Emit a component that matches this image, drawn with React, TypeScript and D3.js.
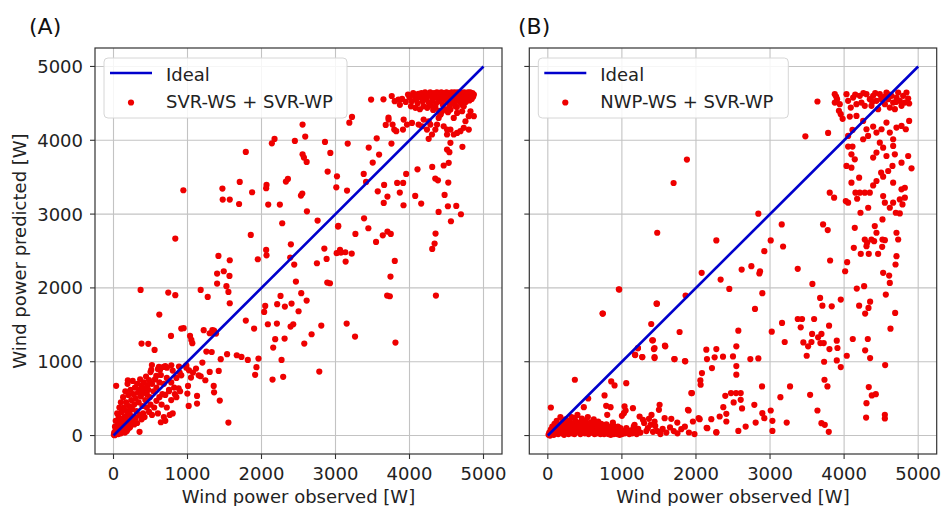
import React from "react";
import * as d3 from "d3";

// ---------- DATA ----------
const tickValues = [0, 1000, 2000, 3000, 4000, 5000];
const idealLine: [number, number][] = [[0, 0], [5000, 5000]];
const panelLabels = ["(A)", "(B)"];
const seriesNames = ["SVR-WS + SVR-WP", "NWP-WS + SVR-WP"];
const xAxisTitle = "Wind power observed [W]";
const yAxisTitle = "Wind power predicted [W]";

// Panel A: [observed, predicted]
const svrSparse: [number, number][] = [
  [944,3323],[1472,3345],[1476,3196],[1571,3196],[1697,3137],[1706,3436],[1788,3842],[1873,3296],[1855,2718],[835,2668],[2068,3395],[2063,3350],[2091,3129],[2140,3959],[2176,4018],[2248,3129],[2330,3440],[2357,3476],[2280,2876],[2451,3991],[2555,4212],[2591,4050],[2555,3810],[2573,3765],[2610,3707],[2533,3251],[2551,3278],[2614,3038],[2858,3977],[2930,3828],[2894,3576],[2758,2912],[3020,3512],[3011,3363],[3165,3955],[3187,4239],[3223,4316],[3156,3318],[3038,2840],[3269,2731],[3386,2943],[3444,2808],[3381,3544],[3413,3436],[3449,3901],[3557,4027],[3589,3806],[3571,3309],[3503,3698],[3481,4551],[3648,4555],[3716,4307],[3756,3955],[3679,4208],[3657,3395],[3702,3237],[3652,3151],[3639,2713],[3702,2763],[3747,2731],[3548,2623],[3833,3422],[3869,3291],[3914,3422],[3919,3120],[3955,3544],[4077,3246],[4108,3607],[4158,3142],[4352,2736],[4339,2600],[4307,2528],[4393,3029],[4519,3106],[4632,3111],[4695,2998],[4560,2903],[4307,3639],[4348,3481],[4384,3458],[4524,3427],[4474,3260],[4357,1896],[3801,2366],[3743,2154],[3698,1896],[3734,1887],[3810,1260],[3264,1341],[3151,1517],[3219,2465],[3133,2483],[3061,2515],[3074,2479],[3137,2357],[3016,2470],[3034,2831],[2880,2393],[2889,2072],[2925,2063],[2849,2533],[2749,2334],[2808,1490],[2677,1372],[2781,867],[2578,1246],[2610,1828],[2537,1928],[2501,1684],[2465,2086],[2442,2316],[2397,2591],[2388,2411],[2257,1892],[2212,1779],[2316,1747],[2406,1788],[2429,1508],[2393,1476],[2312,1314],[2185,1305],[2158,1192],[2271,1025],[2149,758],[2293,795],[2208,1517],[2086,1508],[2050,1756],[2036,1675],[2068,2442],[2063,2515],[1950,2388],[1959,1043],[1932,926],[1914,822],[1900,1449],[1788,1558],[1815,1025],[1729,1065],[1666,1088],[1535,1102],[1449,1034],[1436,474],[1553,176],[1571,2375],[1567,2163],[1490,2226],[1418,2433],[1400,2194],[1400,2059],[1526,2023],[1553,1946],[1571,1792],[1273,1878],[1178,1973],[1359,1422],[1300,1386],[1386,1381],[1219,1427],[1034,1350],[1052,1296],[1065,1251],[916,1449],[948,1454],[777,1350],[740,1937],[835,1901],[619,1639],[366,1973],[379,1246],[470,1242],[555,1160],[36,673],[194,749]
];
const svrMid: [number, number][] = [
  [1336,1430],[1350,1394],[1327,1132],[1255,1137],[1354,672],[1359,586],[1422,875],[1300,862],[1241,749],[1178,803],[1129,433],[1016,401],[1129,537],[998,568],[1007,672],[1047,785],[1074,853],[1151,816],[1115,907],[1020,884],[984,920],[984,952],[1201,988],[894,853],[916,816],[885,934],[781,952],[722,920],[677,929],[614,929],[519,956],[628,889],[578,807],[510,889]
];
const svrLow: [number, number][] = [
  [20,120],[30,200],[40,80],[50,300],[60,150],[70,250],[80,380],[90,200],[100,450],[110,320],[120,150],[130,520],[140,380],[150,250],[160,600],[170,450],[180,330],[190,700],[200,550],[210,400],[220,280],[230,620],[240,480],[250,360],[260,740],[270,560],[280,420],[290,650],[300,500],[310,330],[320,700],[330,580],[340,450],[350,620],[360,760],[370,530],[380,680],[390,400],[400,580],[410,720],[420,640],[430,480],[440,800],[450,560],[460,680],[470,620],[480,750],[490,520],[500,860],[520,700],[540,600],[560,760],[580,650],[600,900],[620,720],[640,820],[660,560],[680,700],[700,940],[720,780],[750,620],[780,720],[800,880],[830,560],[850,780],[880,640],
  [40,20],[60,40],[80,60],[100,30],[120,90],[150,100],[180,60],[200,160],[220,110],[250,200],[280,150],[300,240],[320,170],[350,280],[352,50],[380,220],[400,300],[420,250],[450,380],[480,320],[500,420],[520,280],[550,380],[580,470],[600,300],[620,520],[650,420],[680,250],[700,550],[720,380],[750,600],[780,480],[800,300],[820,650],[850,520],[900,600],[700,200],[760,280],[640,180],
  [5,10],[10,40],[15,5],[25,60],[35,30],[45,110],[55,70],[65,20],[75,130],[85,90],[95,50],[105,160],[115,60],[125,230],[135,110],[145,180],[155,40],[165,260],[175,140],[185,200],[195,90],[205,310],[215,190],[225,120],[235,350],[245,260]
];
const svrHigh: [number, number][] = [
  [3900,4560],[3950,4520],[3980,4620],[4000,4580],[4030,4530],[4050,4640],[4070,4600],[4090,4550],[4110,4500],[4120,4630],[4140,4580],[4160,4640],[4180,4530],[4200,4600],[4210,4650],[4230,4560],[4250,4620],[4260,4510],[4280,4650],[4300,4590],[4310,4540],[4330,4640],[4340,4600],[4360,4500],[4370,4650],[4380,4570],[4400,4620],[4410,4530],[4430,4650],[4440,4590],[4450,4480],[4460,4640],[4470,4560],[4490,4610],[4500,4650],[4510,4520],[4520,4590],[4530,4640],[4540,4460],[4550,4600],[4560,4550],[4570,4650],[4580,4500],[4590,4620],[4600,4580],[4610,4650],[4620,4530],[4630,4610],[4640,4450],[4650,4650],[4660,4570],[4670,4620],[4680,4520],[4690,4650],[4700,4590],[4710,4480],[4720,4630],[4730,4560],[4740,4650],[4750,4600],[4760,4520],[4770,4640],[4780,4580],[4790,4650],[4800,4610],[4810,4540],[4820,4650],[4830,4600],[4840,4560],[4850,4640],[4860,4590],[4870,4620],[3850,4550],[3800,4530],[3760,4600],[3870,4480],[4020,4460],[4080,4440],[4140,4420],[4190,4460],[4240,4440],[4290,4470],[4320,4410],[4350,4450],[4400,4400],[4420,4350],[4480,4420],[4520,4380],
  [3717,4281],[3771,4213],[3794,4145],[3821,4123],[3921,4281],[3912,4145],[3966,4213],[4033,4235],[4123,4213],[4168,4190],[4191,4281],[4259,4258],[4282,4213],[4236,4145],[4259,4019],[4304,4078],[4349,4145],[4372,4213],[4394,4303],[4417,4348],[4440,4393],[4462,4190],[4507,4145],[4507,4078],[4553,4145],[4598,4078],[4643,4100],[4688,4123],[4733,4168],[4801,4145],[4756,4258],[4801,4326],[4869,4326],[4824,4393],[4711,4393],[4643,4371],[4598,4303],[4553,4416],[4620,4461],[4733,4461],[4715,3911],[4553,3965],[4507,3875],[4462,3658],[4530,3694],[4539,3839]
];

// Panel B: [observed, predicted]
const nwpSparse: [number, number][] = [
  [1878,3738],[1698,3421],[1477,2747],[2275,2643],[2842,3005],[3477,4054],[3640,4525],[3784,4100],[3158,2860],[3009,2643],[3176,2561],[2923,2498],[2617,2249],[2748,2294],[2865,2226],[2856,2195],[2333,2113],[2077,2204],[2450,1986],[1860,1896],[2896,1928],[2797,1715],[959,1982],[743,1652],[1468,1787],[1396,1511],[1779,1403],[2572,1421],[3023,1407],[3162,1525],[3198,1267],[2545,1208],[2275,1172],[2140,1163],[1419,1290],[1441,1186],[1586,1208],[1216,1181],[1176,1095],[1275,1063],[1441,1050],[1712,1036],[1851,1009],[2149,1036],[2252,1059],[2365,1068],[2500,1072],[2734,1036],[2842,1045],[2545,941],[2545,824],[2216,914],[2081,846],[2059,747],[2063,688],[1946,575],[1901,339],[2036,235],[2144,104],[2275,45],[2320,258],[2410,294],[2369,385],[2396,538],[2473,575],[2541,575],[2604,575],[2604,484],[2509,448],[2622,367],[2410,190],[2572,63],[2671,122],[2788,416],[2806,176],[2892,665],[2896,303],[2923,235],[3009,339],[3032,199],[3032,63],[3140,520],[3270,665],[3225,176],[3374,2258],[3572,2054],[3374,1579],[3432,1579],[3595,1579],[3414,1466],[3568,1376],[3450,1262],[3514,1208],[3559,1267],[3649,1330],[3694,1376],[3680,1253],[3725,1253],[3730,1000],[3775,665],[3735,756],[3541,552],[3495,1081],[3802,1172],[3901,1285],[3910,1186],[3797,1489],[3676,1864],[3707,1760],[3833,1751],[3955,1842],[3811,2371],[3716,2860],[3779,2783],[3901,1018],[3955,928],[3640,339],[3694,167],[3739,145],[3793,50],[4036,1081],[4117,1308],[4320,1308],[4284,1154],[4351,1050],[4171,1991],[4270,2023],[4203,1760],[4284,1652],[4329,1729],[4351,1814],[4563,1910],[4689,1661],[4626,1448],[4554,955],[4333,656],[4374,543],[4428,561],[4302,439],[4297,244],[4550,281],[4550,231],
  [4131,2543],[4225,2462],[4302,2566],[4333,2462],[4405,2633],[4459,2462],[4514,2557],[4550,2647],[4527,2204],[4608,2167],[4617,2068],[4707,2430],[4694,2317],[4041,2348],[4014,2226],[3806,3290],[3865,3222]
];
const nwpHigh: [number, number][] = [
  [3874,4624],[3905,4557],[3941,4489],[3874,4511],[3892,4593],[4032,4624],[4054,4534],[4090,4443],[4122,4579],[4167,4489],[4212,4602],[4234,4511],[4279,4466],[4302,4624],[4347,4557],[4369,4466],[4392,4602],[4437,4534],[4459,4421],[4482,4624],[4527,4579],[4550,4489],[4572,4647],[4595,4557],[4617,4443],[4640,4602],[4662,4511],[4685,4421],[4707,4579],[4730,4647],[4752,4534],[4775,4466],[4797,4602],[4820,4511],[4842,4647],[4865,4566],[4878,4498],[3955,4353],[3930,4400],[3980,4290],[4260,4640],[4420,4640],[4500,4560],[4610,4620],[4700,4520],[4560,4600],[4380,4520],[4150,4620],
  [4077,4321],[4167,4330],[4257,4262],[4113,4140],[4054,4059],[4302,4149],[4392,4186],[4324,4059],[4257,4014],[4437,4104],[4505,4149],[4572,4240],[4617,4104],[4662,4014],[4707,4172],[4775,4195],[4833,4149],[4878,4262],[4482,3968],[4527,3900],[4437,3833],[4392,3765],[4572,3787],[4662,3923],[4685,3810],[4775,3697],[4865,3787],[4910,3620],[4653,3652],[4595,3584],[4500,3561],[4527,3507],[4437,3448],[4392,3389],[4347,3290],[4279,3290],[4212,3290],[4153,3290],[4176,3208],[4325,3086],[4527,3244],[4550,3154],[4617,3086],[4662,3154],[4752,3199],[4788,3131],[4820,3222],[4698,3018],[4752,3009],[4662,3425],[4775,3335],[4820,3357],[4023,3176],[4054,3154],[4032,3652],[4099,3629],[4144,3742],[4099,3810],[4113,3914],[4054,3914],[4203,3493],[4099,3425],[4221,3018],[4144,2814],[4279,2656],[4311,2611],[4414,2837],[4518,2928],[4437,2747],[4369,2656],[4518,2656],[4707,2747],[4730,2656]
];
const nwpLow: [number, number][] = [
  [41,380],[365,756],[739,1652],[964,1977],[766,543],[856,733],[901,679],[788,403],[847,385],[486,385],[545,502],[802,281],[1036,394],[1059,710],[1027,303],[1000,267],[1050,339],[1149,371],[1239,258],[1284,213],[1365,226],[1387,145],[1441,190],[1509,416],[1500,348],[1577,235],[1667,226],[1748,176],[1802,86],[1905,41],[1892,348],[1937,575],[1959,190],[2050,222],[2153,100],[2207,222],[2275,41],[360,235],[495,167],[586,122],[631,190],[721,145],[878,176],[946,122],[1171,145],[1410,1290],[1432,1172],[1441,1063],[1275,1063],[1180,1090],[1216,1186],[1473,1787],[1581,1217],[1707,1036],[1856,1005],
  [10,10],[20,40],[30,0],[40,80],[50,20],[60,120],[70,50],[80,10],[90,160],[100,60],[110,30],[120,200],[130,90],[140,20],[150,140],[160,60],[170,250],[180,100],[190,30],[200,180],[210,70],[220,10],[230,130],[240,220],[250,50],[260,150],[270,90],[280,20],[290,200],[300,120],[310,60],[320,250],[330,30],[340,160],[350,90],[360,20],[370,200],[380,120],[390,50],[400,280],[410,140],[420,60],[430,180],[440,20],[450,100],[460,230],[470,50],[480,160],[490,80],[500,30],[510,200],[520,120],[530,60],[540,250],[550,20],[560,140],[570,90],[580,180],[590,40],[600,110],[610,60],[620,220],[630,20],[640,150],[650,80],[660,30],[670,120],[680,190],[690,50],[700,100],[710,20],[720,160],[730,70],[740,40],[750,130],[760,20],[770,90],[780,50],[790,150],[800,30],[810,80],[820,20],[830,120],[840,50],[850,10],[860,90],[870,40],[880,140],[890,20],[900,70],[910,30],[920,110],[930,50],[940,20],[950,80],[960,40],[970,10],[980,100],[990,50],[1000,20],[1020,60],[1040,30],[1060,100],[1080,40],[1100,20],[1120,70],[1140,30],[1160,120],[1180,50],[1200,20],[1220,90],[1250,40],[1300,170],[1330,60],[1350,100],[1400,280],[1420,50],[1450,130],[1480,60],[1520,20],[1550,90],[1600,40],[1650,110],[1700,60],[1750,30],[1850,120],[1980,20]
];

const panelAData = [...svrLow, ...svrMid, ...svrSparse, ...svrHigh];
const panelBData = [...nwpLow, ...nwpSparse, ...nwpHigh];

// ---------- LAYOUT ----------
const W = 941, H = 506;
const TOP = 48, BOTTOM = 454;
const FONT = "'DejaVu Sans', Verdana, sans-serif";
const DOMAIN: [number, number] = [-250, 5250];
const RED = "#ee0000";
const BLUE = "#0000cc";

type PanelProps = {
  left: number; right: number; data: [number, number][];
  label: string; labelX: number; series: string; showYTickLabels: boolean; legendWidth: number;
};

function Panel({ left, right, data, label, labelX, series, showYTickLabels, legendWidth }: PanelProps) {
  const x = d3.scaleLinear().domain(DOMAIN).range([left, right]);
  const y = d3.scaleLinear().domain(DOMAIN).range([BOTTOM, TOP]);
  const line = d3.line<[number, number]>().x(d => x(d[0])).y(d => y(d[1]));
  const lgX = left + 9, lgY = 58;
  return (
    <g>
      <text x={labelX} y={33.5} fontSize={22} fontFamily={FONT} fill="#111">{label}</text>
      {/* grid */}
      {tickValues.map(t => (
        <line key={"gx" + t} x1={x(t)} x2={x(t)} y1={TOP} y2={BOTTOM} stroke="#c3c3c3" strokeWidth={1.1} />
      ))}
      {tickValues.map(t => (
        <line key={"gy" + t} x1={left} x2={right} y1={y(t)} y2={y(t)} stroke="#c3c3c3" strokeWidth={1.1} />
      ))}
      {/* points */}
      {data.map((d, i) => (
        <circle key={i} cx={x(d[0])} cy={y(d[1])} r={3.1} fill={RED} />
      ))}
      {/* ideal line */}
      <path d={line(idealLine) || ""} stroke={BLUE} strokeWidth={2.6} fill="none" />
      {/* frame */}
      <rect x={left} y={TOP} width={right - left} height={BOTTOM - TOP} fill="none" stroke="#333" strokeWidth={1.2} />
      {/* ticks */}
      {tickValues.map(t => (
        <g key={"tx" + t}>
          <line x1={x(t)} x2={x(t)} y1={BOTTOM} y2={BOTTOM + 5} stroke="#333" strokeWidth={1.1} />
          <text x={x(t)} y={480} textAnchor="middle" fontSize={18} fontFamily={FONT} fill="#222">{t}</text>
        </g>
      ))}
      {tickValues.map(t => (
        <g key={"ty" + t}>
          <line x1={left - 5} x2={left} y1={y(t)} y2={y(t)} stroke="#333" strokeWidth={1.1} />
          {showYTickLabels && (
            <text x={left - 12} y={y(t) + 6.5} textAnchor="end" fontSize={18} fontFamily={FONT} fill="#222">{t}</text>
          )}
        </g>
      ))}
      <text x={(left + right) / 2} y={503} textAnchor="middle" fontSize={18} fontFamily={FONT} fill="#222">{xAxisTitle}</text>
      {/* legend */}
      <rect x={lgX} y={lgY} width={legendWidth} height={60} rx={4} fill="#fff" fillOpacity={0.85} stroke="#d6d6d6" strokeWidth={1} />
      <line x1={lgX + 6} x2={lgX + 48} y1={73} y2={73} stroke={BLUE} strokeWidth={2.6} />
      <text x={lgX + 62} y={80.5} fontSize={18} fontFamily={FONT} fill="#222">Ideal</text>
      <circle cx={lgX + 27} cy={102.5} r={3.1} fill={RED} />
      <text x={lgX + 62} y={108} fontSize={18} fontFamily={FONT} fill="#222">{series}</text>
    </g>
  );
}

export default function App() {
  return (
    <svg width={W} height={H} style={{ position: "absolute", left: 0, top: 0, background: "#fff" }}>
      <rect width={W} height={H} fill="#fff" />
      <Panel left={95} right={502} data={panelAData} label={panelLabels[0]} labelX={29} series={seriesNames[0]} showYTickLabels={true} legendWidth={243} />
      <Panel left={529.3} right={936.7} data={panelBData} label={panelLabels[1]} labelX={518} series={seriesNames[1]} showYTickLabels={false} legendWidth={250} />
      <text transform="translate(26,251) rotate(-90)" textAnchor="middle" fontSize={18} fontFamily={FONT} fill="#222">{yAxisTitle}</text>
    </svg>
  );
}
